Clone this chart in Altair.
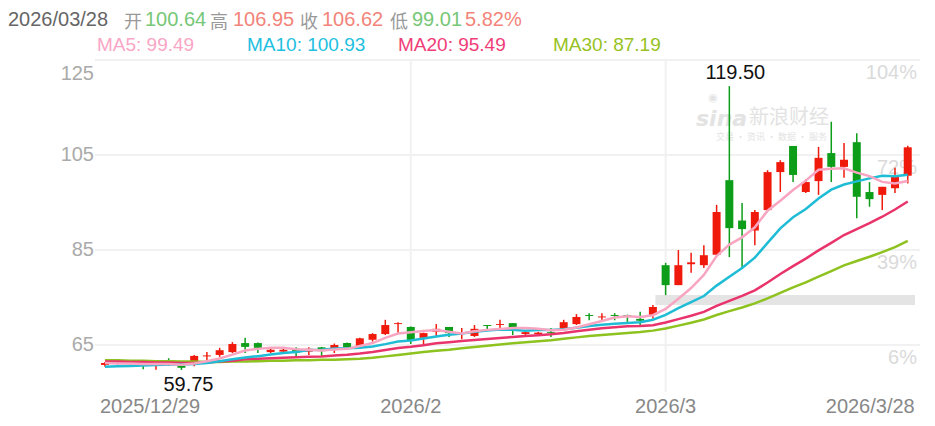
import altair as alt
import pandas as pd

# ---------------- data ----------------
idx = list(range(64))
opens = [60.8, 61.2, 61.0, 60.9, 60.6, 61.6, 60.6, 61.2, 62.6, 62.9,
         63.5, 65.4, 65.4, 63.5, 63.6, 64.2, 63.6, 64.5, 64.0, 65.4,
         64.8, 66.1, 67.3, 69.4, 68.8, 66.5, 67.8, 68.8, 67.4, 66.9,
         69.2, 69.2, 69.6, 67.3, 67.3, 67.7, 68.4, 69.4, 71.3, 70.8,
         71.3, 71.3, 70.5, 71.3, 81.8, 77.6, 82.0, 81.8, 84.0, 99.7,
         91.2, 89.1, 93.4, 101.4, 106.9, 97.2, 99.5, 105.4, 102.5, 107.7,
         97.2, 96.6, 98.0, 100.64]
highs = [61.4, 61.4, 61.5, 61.0, 61.0, 62.2, 60.9, 62.9, 63.5, 64.4,
         65.6, 66.5, 65.5, 64.3, 64.4, 64.5, 64.5, 64.6, 65.3, 65.5,
         66.5, 67.5, 70.3, 69.8, 68.9, 67.6, 69.4, 68.8, 68.6, 69.2,
         69.2, 70.3, 69.6, 68.1, 67.8, 68.6, 70.3, 71.5, 71.7, 71.7,
         71.7, 71.4, 72.0, 73.4, 82.3, 85.0, 84.4, 86.0, 94.5, 119.5,
         94.9, 93.4, 101.8, 103.9, 106.9, 99.9, 106.7, 112.0, 107.5, 109.6,
         99.3, 98.3, 102.3, 106.95]
lows = [60.4, 60.9, 60.9, 59.9, 59.8, 60.6, 59.75, 60.5, 61.6, 62.5,
        63.3, 63.3, 63.3, 63.3, 63.2, 62.5, 62.9, 62.7, 63.3, 64.3,
        64.6, 65.7, 67.1, 67.3, 65.2, 65.0, 66.9, 66.7, 66.2, 66.7,
        68.1, 68.6, 67.1, 67.1, 67.0, 66.7, 68.2, 69.2, 70.2, 70.0,
        70.2, 69.8, 69.0, 70.6, 75.5, 77.6, 80.2, 81.2, 84.0, 83.5,
        81.2, 86.0, 93.4, 97.2, 99.3, 97.0, 96.6, 99.3, 100.2, 91.7,
        94.1, 93.4, 97.0, 99.01]
closes = [61.2, 61.0, 61.3, 60.6, 60.9, 61.2, 60.2, 62.7, 62.8, 63.9,
          65.2, 64.6, 64.4, 64.0, 64.0, 63.4, 64.2, 63.7, 65.0, 64.6,
          66.4, 67.3, 69.2, 69.6, 66.0, 67.5, 68.4, 67.5, 67.6, 68.4,
          69.0, 69.4, 68.4, 67.7, 67.6, 67.5, 69.8, 70.9, 71.1, 71.0,
          71.1, 71.1, 70.1, 73.0, 77.6, 81.8, 82.4, 83.9, 93.0, 89.6,
          89.4, 93.0, 101.4, 103.5, 100.8, 99.3, 104.4, 102.5, 104.0, 96.2,
          95.7, 98.3, 100.75, 106.62]

ma5 = [61.2, 61.1, 61.1, 61.0, 61.0, 61.0, 60.84, 61.12, 61.56, 62.16,
       62.96, 63.84, 64.18, 64.42, 64.44, 64.08, 64.0, 63.86, 64.06, 64.18,
       64.78, 65.4, 66.5, 67.42, 67.7, 67.92, 68.14, 67.8, 67.4, 67.88,
       68.18, 68.38, 68.56, 68.58, 68.42, 68.12, 68.2, 68.7, 69.38, 70.06,
       70.78, 71.04, 70.88, 71.26, 72.58, 74.72, 76.98, 79.74, 83.74, 86.14,
       87.66, 89.78, 93.28, 95.38, 97.62, 99.6, 101.88, 102.1, 102.2, 101.28,
       100.56, 99.34, 98.99, 99.51]
ma10 = [60.4, 60.5, 60.6, 60.7, 60.8, 60.9, 60.9, 61.0, 61.2, 61.58,
        61.98, 62.34, 62.65, 62.99, 63.3, 63.52, 63.92, 64.02, 64.24, 64.31,
        64.43, 64.7, 65.18, 65.74, 65.94, 66.35, 66.77, 67.15, 67.41, 67.79,
        68.05, 68.26, 68.18, 67.99, 68.15, 68.15, 68.29, 68.63, 68.98, 69.24,
        69.45, 69.62, 69.79, 70.32, 71.32, 72.75, 74.01, 75.31, 77.5, 79.36,
        81.19, 83.38, 86.51, 89.56, 91.88, 93.63, 95.83, 97.69, 98.79, 99.45,
        100.08, 100.61, 100.55, 100.86]
ma20 = [61.5, 61.5, 61.4, 61.4, 61.3, 61.3, 61.2, 61.2, 61.3, 61.5,
        61.7, 62.0, 62.1, 62.2, 62.3, 62.4, 62.5, 62.6, 62.8, 62.95,
        63.2, 63.52, 63.92, 64.37, 64.62, 64.94, 65.35, 65.59, 65.83, 66.05,
        66.24, 66.48, 66.68, 66.87, 67.05, 67.25, 67.53, 67.89, 68.2, 68.52,
        68.75, 68.94, 68.99, 69.16, 69.74, 70.45, 71.15, 71.97, 73.24, 74.3,
        75.32, 76.5, 78.15, 79.94, 81.6, 83.19, 84.92, 86.5, 88.15, 89.4,
        90.64, 92.0, 93.53, 95.21]
ma30 = [61.8, 61.8, 61.7, 61.7, 61.6, 61.6, 61.5, 61.5, 61.4, 61.4,
        61.5, 61.5, 61.6, 61.7, 61.7, 61.8, 61.8, 61.9, 61.9, 62.0,
        62.1, 62.3, 62.6, 62.9, 63.2, 63.5, 63.8, 64.0, 64.3, 64.56,
        64.82, 65.1, 65.34, 65.57, 65.8, 66.01, 66.33, 66.6, 66.88, 67.11,
        67.31, 67.53, 67.72, 68.02, 68.47, 69.08, 69.69, 70.36, 71.3, 72.13,
        72.9, 73.75, 74.83, 75.96, 77.12, 78.18, 79.38, 80.54, 81.76, 82.68,
        83.57, 84.54, 85.62, 86.91]

y_ticks = [65, 85, 105, 125]
pct_labels = ["6%", "39%", "72%", "104%"]
x_tick_idx = [0, 24, 44, 63]
x_tick_text = ["2025/12/29", "2026/2", "2026/3", "2026/3/28"]
grid_x_idx = [24, 44]
band_lo, band_hi, band_start = 73.4, 75.5, 43.2
extreme_idx = [49, 6]
extreme_val = [119.5, 59.75]
extreme_txt = ["119.50", "59.75"]

# ---------------- styling ----------------
W, H = 825, 332
FONT = "Liberation Sans, Arial, sans-serif"
CJK = "Noto Sans CJK SC"
FS = 20
RED, GREEN = "#f01a0c", "#0c9e18"
XDOM = [-0.39, 63.57]
YDOM = [55.1, 125]

df = pd.DataFrame({"i": idx, "open": opens, "high": highs, "low": lows,
                   "close": closes, "ma5": ma5, "ma10": ma10, "ma20": ma20,
                   "ma30": ma30})
df["dir"] = ["up" if c >= o else "down" for o, c in zip(opens, closes)]

xs = alt.Scale(domain=XDOM, nice=False, zero=False)
ys = alt.Scale(domain=YDOM, nice=False, zero=False)


def X(f):
    return alt.X(f, scale=xs, axis=None)


def Y(f):
    return alt.Y(f, scale=ys, axis=None)


col = alt.Color("dir:N", scale=alt.Scale(domain=["up", "down"], range=[RED, GREEN]), legend=None)

base = alt.Chart(df)

ydf = pd.DataFrame({"v": y_ticks, "pct": pct_labels, "lab": [str(v) for v in y_ticks]})
hgrid = alt.Chart(ydf).mark_rule(color="#f1f1f1", strokeWidth=2).encode(y=Y("v:Q"))
vgrid = alt.Chart(pd.DataFrame({"i": grid_x_idx})).mark_rule(color="#f1f1f1", strokeWidth=2).encode(x=X("i:Q"))
band = alt.Chart(pd.DataFrame({"a": [band_start], "b": [XDOM[1]], "lo": [band_lo], "hi": [band_hi]})).mark_rect(
    color="#e4e4e4").encode(x=X("a:Q"), x2="b:Q", y=Y("lo:Q"), y2="hi:Q")
pct = alt.Chart(ydf).mark_text(align="right", baseline="middle", dy=13, fontSize=FS, font=FONT,
                               color="#dadada").encode(x=alt.value(W - 3), y=Y("v:Q"), text="pct:N")

WM = "#e3e3e3"
wm1 = alt.Chart(pd.DataFrame({"t": ["sina"]})).mark_text(
    align="left", baseline="middle", fontSize=22, fontStyle="italic", fontWeight="bold",
    font="DejaVu Sans", color=WM).encode(x=alt.value(601), y=alt.value(59), text="t:N")
wm2 = alt.Chart(pd.DataFrame({"t": ["新浪财经"]})).mark_text(
    align="left", baseline="middle", fontSize=20, font=CJK,
    color=WM).encode(x=alt.value(654), y=alt.value(58), text="t:N")
wm3 = alt.Chart(pd.DataFrame({"t": ["交易 · 资讯 · 数据 · 服务"]})).mark_text(
    align="left", baseline="middle", fontSize=9, font=CJK,
    color=WM).encode(x=alt.value(621), y=alt.value(77), text="t:N")
wm4 = alt.Chart(pd.DataFrame({"t": ["◉"]})).mark_text(
    align="center", baseline="middle", fontSize=11, font="DejaVu Sans",
    color=WM).encode(x=alt.value(618), y=alt.value(38), text="t:N")

wick = base.mark_rule(strokeWidth=1.5).encode(x=X("i:Q"), y=Y("low:Q"), y2="high:Q", color=col)
body = base.mark_bar(size=8).encode(x=X("i:Q"), y=Y("open:Q"), y2="close:Q", color=col)


def ma_line(field, color):
    return base.mark_line(strokeWidth=2.5, color=color).encode(x=X("i:Q"), y=Y(f"{field}:Q"))


lines = [ma_line("ma30", "#8dc21f"), ma_line("ma20", "#e9336b"),
         ma_line("ma10", "#1fbcd6"), ma_line("ma5", "#f8a5c2")]

ext = pd.DataFrame({"i": extreme_idx, "v": extreme_val, "t": extreme_txt})
hi_lab = alt.Chart(ext.iloc[[0]]).mark_text(baseline="middle", dy=-13, dx=6, fontSize=FS, font=FONT,
                                            color="#111").encode(x=X("i:Q"), y=Y("v:Q"), text="t:N")
lo_lab = alt.Chart(ext.iloc[[1]]).mark_text(baseline="middle", dy=15, dx=7, fontSize=FS, font=FONT,
                                            color="#111").encode(x=X("i:Q"), y=Y("v:Q"), text="t:N")

ylab_mid = alt.Chart(ydf[ydf.v < 125]).mark_text(align="right", baseline="middle", fontSize=FS, font=FONT,
                                                 color="#aaaaaa").encode(x=alt.value(-1), y=Y("v:Q"), text="lab:N")
ylab_top = alt.Chart(ydf[ydf.v == 125]).mark_text(align="right", baseline="top", dy=4, fontSize=FS, font=FONT,
                                                  color="#aaaaaa").encode(x=alt.value(-1), y=Y("v:Q"), text="lab:N")

xdf = pd.DataFrame({"i": x_tick_idx, "t": x_tick_text})
XL_Y = H + 21
xl_left = alt.Chart(xdf.iloc[[0]]).mark_text(align="left", baseline="alphabetic", dx=-5, fontSize=FS, font=FONT,
                                            color="#888").encode(x=X("i:Q"), y=alt.value(XL_Y), text="t:N")
xl_mid = alt.Chart(xdf.iloc[[1, 2]]).mark_text(align="center", baseline="alphabetic", fontSize=FS, font=FONT,
                                              color="#888").encode(x=X("i:Q"), y=alt.value(XL_Y), text="t:N")
xl_right = alt.Chart(xdf.iloc[[3]]).mark_text(align="right", baseline="alphabetic", dx=7, fontSize=FS, font=FONT,
                                             color="#888").encode(x=X("i:Q"), y=alt.value(XL_Y), text="t:N")

# header
head1 = [("2026/03/28", -87, "#666666"), ("开", 29, "#999999"), ("100.64", 50, "#76c776"),
         ("高", 115, "#999999"), ("106.95", 138, "#f2847a"), ("收", 205, "#999999"),
         ("106.62", 227, "#f2847a"), ("低", 295, "#999999"), ("99.01", 317, "#76c776"),
         ("5.82%", 370, "#f2847a")]
head2 = [("MA5: 99.49", 2, "#f9a6c6"), ("MA10: 100.93", 152, "#1ec0df"),
         ("MA20: 95.49", 303, "#ef3d78"), ("MA30: 87.19", 458, "#97c21f")]


def htext(t, x, y, c, size):
    f = CJK if len(t) == 1 else FONT
    return alt.Chart(pd.DataFrame({"t": [t]})).mark_text(
        align="left", baseline="middle", fontSize=size, font=f, color=c).encode(
        x=alt.value(x), y=alt.value(y), text="t:N")


headers = ([htext(t, x, -37 if len(t) == 1 else -40, c, 18 if len(t) == 1 else 20) for t, x, c in head1]
           + [htext(t, x, -15, c, 19) for t, x, c in head2])

chart = alt.layer(
    hgrid, vgrid, band, pct, wm1, wm2, wm3, wm4, wick, body, *lines, hi_lab, lo_lab,
    ylab_mid, ylab_top, xl_left, xl_mid, xl_right, *headers
).properties(
    width=W, height=H,
    padding={"left": 87, "top": 52, "right": 0, "bottom": 26},
    autosize=alt.AutoSizeParams(type="none"),
).configure_view(stroke=None)

chart.save("out.html", embed_options={"renderer": "svg", "actions": False})
